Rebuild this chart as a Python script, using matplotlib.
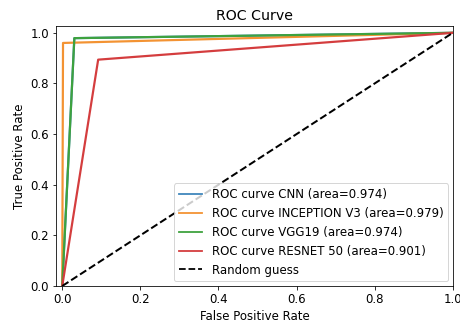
import matplotlib
matplotlib.use("Agg")
import matplotlib.pyplot as plt

# ROC points (fpr, tpr) per model
models = ["CNN", "INCEPTION V3", "VGG19", "RESNET 50"]
aucs = [0.974, 0.979, 0.974, 0.901]
fpr_cnn = [0.0, 0.031, 1.0]
tpr_cnn = [0.0, 0.979, 1.0]
fpr_inception = [0.0, 0.002, 1.0]
tpr_inception = [0.0, 0.960, 1.0]
fpr_vgg = [0.0, 0.031, 1.0]
tpr_vgg = [0.0, 0.979, 1.0]
fpr_resnet = [0.0, 0.092, 1.0]
tpr_resnet = [0.0, 0.894, 1.0]

curves = [
    (fpr_cnn, tpr_cnn),
    (fpr_inception, tpr_inception),
    (fpr_vgg, tpr_vgg),
    (fpr_resnet, tpr_resnet),
]
colors = ["#3f86bc", "#f39333", "#3ea23e", "#d43d3e"]

plt.rcParams["font.size"] = 11.8

fig = plt.figure(figsize=(6.4, 4.5), dpi=72)
ax = fig.add_axes([0.1215, 0.1173, 0.8611, 0.8025])

for name, auc, (fpr, tpr), c in zip(models, aucs, curves, colors):
    ax.plot(fpr, tpr, color=c, lw=2.2, label=f"ROC curve {name} (area={auc:.3f})")

ax.plot([0, 1], [0, 1], "k--", lw=2, label="Random guess")

ax.set_xlim(-0.016, 1.0)
ax.set_ylim(0.0, 1.027)
ax.set_xlabel("False Positive Rate")
ax.set_ylabel("True Positive Rate")
ax.set_title("ROC Curve")
leg = ax.legend(loc="lower right", borderaxespad=0.4)
for line in leg.get_lines():
    line.set_linewidth(1.8)

fig.savefig("out.png", dpi=72)
